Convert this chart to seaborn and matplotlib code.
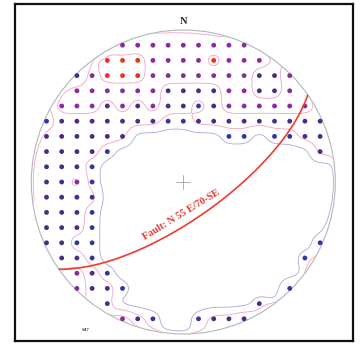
import numpy as np
import pandas as pd
import matplotlib
matplotlib.use("Agg")
import matplotlib.pyplot as plt
import seaborn as sns
from matplotlib.patches import Circle

# Pole-density counting grid (lower hemisphere, equal-area net).
# One string per grid row from north to south, one character per node
# from west to east: "." = no count, "1".."4" = density class.
grid_rows = [
    ".....333333333.....",
    "....44433334333....",
    "..234443333333223..",
    "..333333222233223..",
    ".33323232212333333.",
    "1222222211222222222",
    "222222......11.1122",
    "22221.............2",
    "2221...............",
    "2231...............",
    "2222...............",
    "2221...............",
    "2221...............",
    "2211..............1",
    ".221.............1.",
    "..321..............",
    "..3221..........1..",
    "....2.........1....",
    ".....321..1222.....",
]
level_names = ["1", "2", "3", "4"]
level_colors = ["#3034aa", "#4a2c86", "#8a2a9c", "#f42c1c"]
contour_levels_low = [0.5]
contour_levels_high = [1.5, 2.5, 3.5]

fault_strike = 55
fault_dip = 70
fault_label = "Fault: N 55 E/70-SE"
north_label = "N"
site_label = "S47"

step = 0.1  # node spacing in units of the net radius
n_rows = len(grid_rows)
half = n_rows // 2

records = []
for i, row in enumerate(grid_rows):
    for j, ch in enumerate(row):
        if ch != ".":
            records.append({"x": (j - half) * step,
                            "y": (half - i) * step,
                            "level": ch})
nodes = pd.DataFrame(records)

# All counting nodes inside the net (empty ones count as zero)
px, py, pv = [], [], []
for i, row in enumerate(grid_rows):
    for j, ch in enumerate(row):
        x, y = (j - half) * step, (half - i) * step
        if np.hypot(x, y) < 1.0:
            px.append(x)
            py.append(y)
            pv.append(0.0 if ch == "." else float(ch))
px, py, pv = map(np.array, (px, py, pv))

# Near the primitive the counting wraps to the opposite side of the net:
# mirror rim nodes through the centre and reflect them outside the circle.
rr = np.hypot(px, py)
rim = rr > 0.7
scale = (2.0 - rr[rim]) / rr[rim]
gx = -px[rim] * scale
gy = -py[rim] * scale
gv = pv[rim]
allx = np.concatenate([px, gx])
ally = np.concatenate([py, gy])
allv = np.concatenate([pv, gv])

# Gaussian-weighted smoothing of the node values onto a fine mesh
fine = np.linspace(-1.02, 1.02, 241)
FX, FY = np.meshgrid(fine, fine)
sigma = 0.05
field = np.zeros_like(FX)
for k in range(FX.shape[0]):
    dx = FX[k][:, None] - allx[None, :]
    dy = FY[k][:, None] - ally[None, :]
    w = np.exp(-(dx * dx + dy * dy) / (2 * sigma ** 2))
    field[k] = (w @ allv) / w.sum(axis=1)


def plane_trace(strike, dip, n=241):
    st = np.radians(strike)
    dd = np.radians(strike + 90)
    dp = np.radians(dip)
    s = np.array([np.cos(st), np.sin(st), 0.0])
    d = np.array([np.cos(dd) * np.cos(dp), np.sin(dd) * np.cos(dp), np.sin(dp)])
    th = np.linspace(0, np.pi, n)
    v = np.outer(np.cos(th), s) + np.outer(np.sin(th), d)
    plunge = np.arcsin(np.clip(v[:, 2], -1, 1))
    trend = np.arctan2(v[:, 1], v[:, 0])
    r = np.sqrt(2) * np.sin((np.pi / 2 - plunge) / 2)
    return r * np.sin(trend), r * np.cos(trend)


sns.set_theme(style="white")
plt.rcParams["font.family"] = ["Liberation Serif", "DejaVu Serif"]

fig = plt.figure(figsize=(3.6, 3.5), dpi=100)
ax = fig.add_axes([15 / 360, 9 / 350, 338 / 360, 337 / 350])
ax.set_xlim(-1.107, 1.116)
ax.set_ylim(-1.046, 1.171)
ax.set_aspect("equal", adjustable="box")
ax.set_xticks([])
ax.set_yticks([])
for sp in ax.spines.values():
    sp.set_color("#111111")
    sp.set_linewidth(1.6)

net = Circle((0, 0), 1.0, fill=False, ec="#b2b6ba", lw=0.8, zorder=2)
ax.add_patch(net)
clip = Circle((0, 0), 0.995, transform=ax.transData)

cs1 = ax.contour(FX, FY, field, levels=contour_levels_low,
                 colors=["#aaa6dc"], linewidths=0.6, zorder=1)
cs2 = ax.contour(FX, FY, field, levels=contour_levels_high,
                 colors=["#f0a2c4"], linewidths=0.6, zorder=1)
cs1.set_clip_path(clip)
cs2.set_clip_path(clip)

sns.scatterplot(data=nodes, x="x", y="y", hue="level", hue_order=level_names,
                palette=level_colors, s=12, linewidth=0, legend=False,
                ax=ax, zorder=3)
ax.set_xlabel("")
ax.set_ylabel("")

# Centre mark
ax.plot([-0.045, 0.045], [0, 0], color="#a0a0a0", lw=0.6, zorder=2)
ax.plot([0, 0], [-0.045, 0.045], color="#a0a0a0", lw=0.6, zorder=2)

fx, fy = plane_trace(fault_strike, fault_dip)
ax.plot(fx, fy, color="#f03a2c", lw=1.2, zorder=4, solid_capstyle="butt")
ax.text(-0.015, -0.215, fault_label, color="#e8382c", fontsize=7.4,
        fontweight="bold", rotation=31.5, ha="center", va="center",
        rotation_mode="anchor", zorder=5)

ax.text(0.0, 1.055, north_label, fontsize=7.5, fontweight="bold",
        ha="center", va="center", color="#222222")
ax.text(-0.64, -0.975, site_label, fontsize=3.5, fontweight="bold",
        ha="center", va="center", color="#333333")

fig.savefig("out.png", dpi=100, facecolor="white")
